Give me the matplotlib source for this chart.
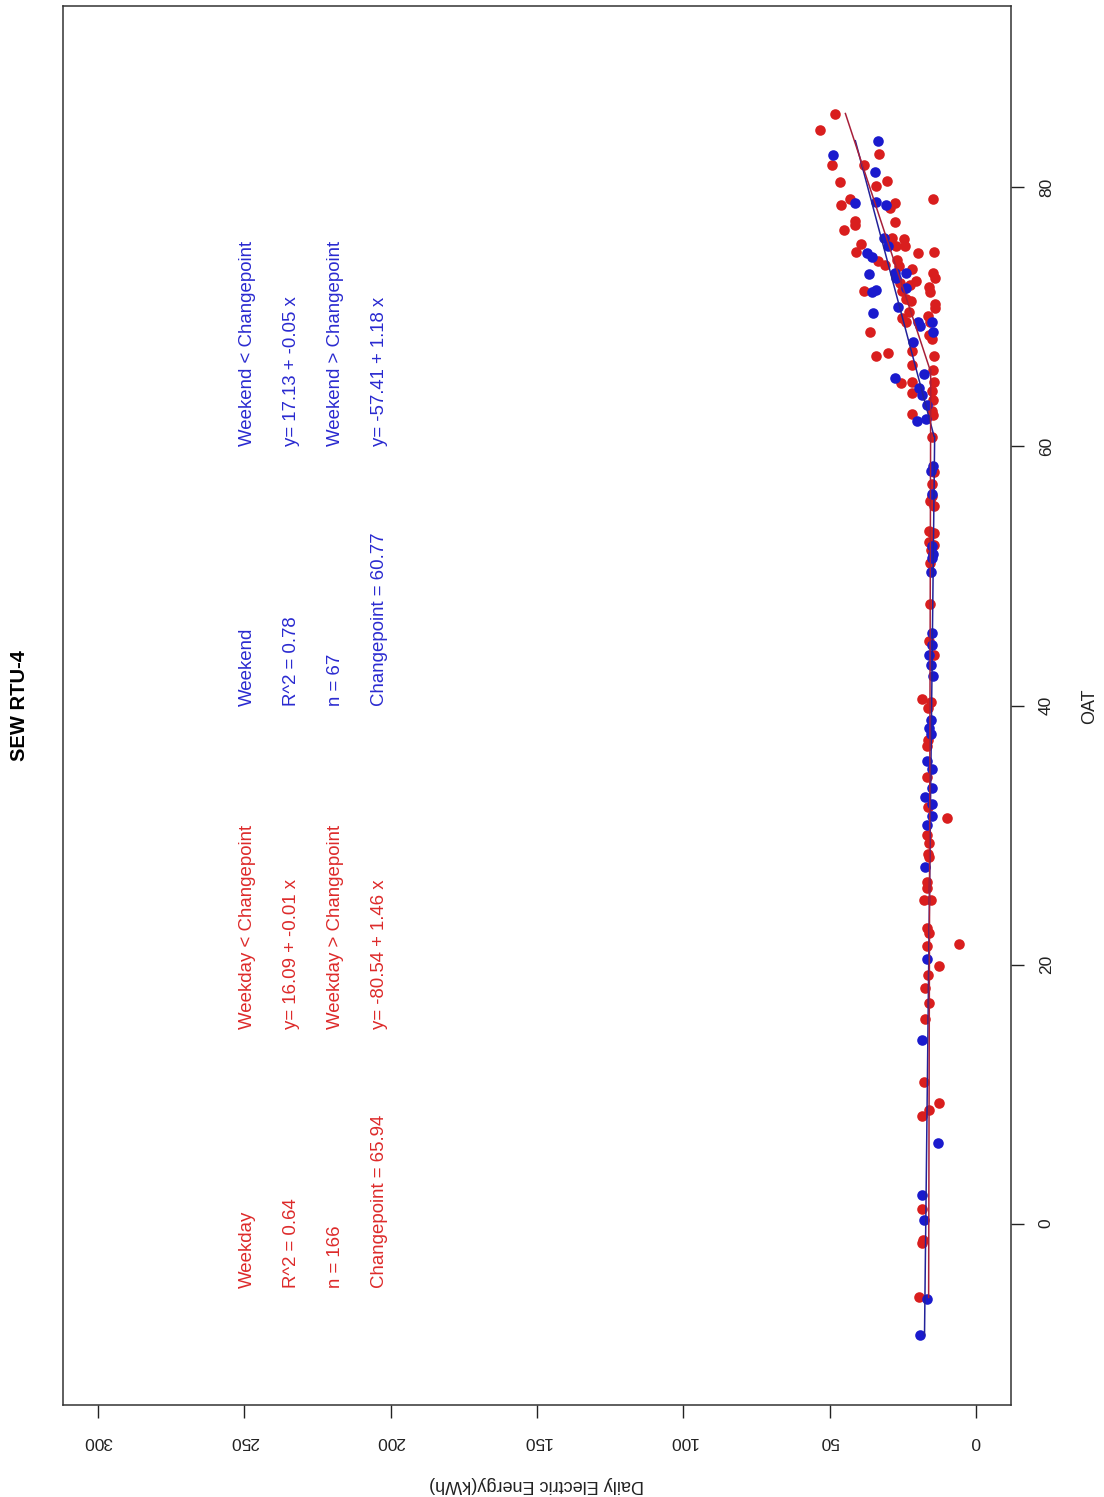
"""
Weekday / weekend changepoint scatter for SEW RTU-4 (page is turned on its side)
"""

import matplotlib
matplotlib.use("Agg")
import matplotlib.pyplot as plt

plt.rcParams['font.family'] = ['Liberation Sans', 'DejaVu Sans']

# weekday points (red)
weekday_oat = [85.7, 84.4, 82.6, 81.7, 81.7, 80.4, 80.5, 80.1, 79.1, 79.1, 78.6, 78.8, 78.4,
               77.4, 77.1, 77.3, 76.7, 76.1, 76.0, 75.5, 75.5, 75.6, 75.0, 74.9, 75.0, 74.3,
               74.0, 74.4, 73.9, 73.7, 73.4, 73.0, 72.8, 72.6, 72.0, 72.5, 72.3, 71.9, 72.0,
               71.4, 71.2, 71.0, 70.7, 70.4, 70.1, 69.9, 69.6, 69.6, 68.8, 68.3, 68.6, 67.0,
               67.2, 67.4, 67.0, 66.3, 65.9, 65.0, 64.9, 65.0, 64.1, 64.3, 63.6, 62.5, 62.7,
               62.4, 60.7, 58.0, 57.1, 56.2, 55.8, 55.4, 53.5, 53.3, 53.3, 52.6, 52.4, 52.0,
               51.0, 47.8, 45.0, 43.9, 40.5, 40.3, 39.8, 36.9, 37.3, 34.5, 32.2, 31.3, 30.0,
               29.4, 28.5, 28.3, 26.4, 25.9, 25.0, 25.0, 22.8, 22.4, 21.6, 21.4, 19.9, 19.2,
               18.2, 17.0, 15.8, 10.9, 9.3, 8.8, 8.3, 1.1, -1.5, -1.3, -5.7]
weekday_kwh = [48.2, 53.3, 33.0, 49.2, 38.1, 46.5, 30.3, 34.0, 14.7, 43.1, 46.1, 27.7, 29.4,
               41.4, 41.4, 27.7, 45.0, 28.6, 24.5, 24.1, 27.4, 39.2, 40.9, 19.8, 14.2, 33.4,
               30.9, 26.8, 26.3, 21.9, 14.7, 14.1, 20.4, 25.9, 38.2, 22.6, 16.1, 15.7, 25.1,
               23.8, 22.3, 14.1, 14.0, 22.7, 16.3, 25.3, 24.0, 15.7, 36.1, 14.9, 16.0, 34.0,
               29.9, 21.9, 14.2, 21.9, 14.7, 21.9, 25.6, 14.2, 21.9, 15.1, 14.6, 21.9, 14.9,
               14.6, 15.1, 14.3, 15.1, 14.9, 15.8, 14.3, 16.0, 15.1, 14.3, 16.0, 14.3, 15.4,
               15.8, 15.8, 16.0, 14.3, 18.3, 15.4, 16.3, 16.6, 16.3, 16.6, 16.3, 9.8, 16.6,
               16.0, 16.3, 16.0, 16.6, 16.6, 17.7, 15.4, 16.6, 16.0, 5.8, 16.6, 12.6, 16.3,
               17.4, 16.0, 17.4, 17.7, 12.6, 16.0, 18.3, 18.3, 18.3, 18.0, 19.4]

# weekend points (blue)
weekend_oat = [83.6, 82.5, 81.2, 78.8, 78.9, 78.6, 76.1, 75.5, 74.9, 74.6, 73.3, 73.4, 73.4,
               73.0, 71.9, 72.1, 72.2, 70.8, 70.3, 69.6, 69.3, 69.6, 68.8, 68.1, 65.6, 65.3,
               64.5, 64.0, 63.2, 62.0, 62.1, 58.5, 58.1, 56.3, 52.3, 51.7, 51.4, 50.3, 45.6,
               44.7, 43.9, 43.1, 42.3, 38.9, 38.3, 37.8, 35.7, 35.1, 33.6, 32.9, 32.4, 31.5,
               30.8, 27.5, 20.4, 14.2, 6.2, 2.2, 0.3, -5.8, -8.6]
weekend_kwh = [33.5, 48.7, 34.4, 41.4, 34.3, 30.8, 31.4, 29.9, 37.1, 35.6, 36.7, 27.6, 23.8,
               27.4, 35.6, 34.0, 24.0, 26.5, 35.0, 19.7, 19.2, 14.9, 14.6, 21.5, 17.7, 27.7,
               19.4, 18.3, 16.6, 20.0, 17.2, 14.6, 15.4, 14.9, 15.1, 14.6, 14.9, 15.2, 15.1,
               14.9, 16.0, 15.4, 14.7, 15.4, 16.0, 15.2, 16.8, 14.9, 15.1, 17.5, 14.9, 14.9,
               16.6, 17.4, 16.6, 18.3, 13.0, 18.3, 17.7, 16.6, 19.2]

# fitted changepoint lines (knots)
weekday_fit_oat = [-5.7, 65.94, 65.95, 85.7]
weekday_fit_kwh = [16.15, 15.43, 15.73, 44.6]
weekend_fit_oat = [-8.6, 60.77, 60.78, 83.6]
weekend_fit_kwh = [17.56, 14.09, 14.30, 41.2]

# annotation blocks: (text, kWh column, OAT start)
weekday_notes = [("Weekday", 249, -5), ("R^2 = 0.64", 234, -5), ("n = 166", 219, -5),
                 ("Changepoint = 65.94", 204, -5),
                 ("Weekday < Changepoint", 249, 15), ("y= 16.09 + -0.01 x", 234, 15),
                 ("Weekday > Changepoint", 219, 15), ("y= -80.54 + 1.46 x", 204, 15)]
weekend_notes = [("Weekend", 249, 40), ("R^2 = 0.78", 234, 40), ("n = 67", 219, 40),
                 ("Changepoint = 60.77", 204, 40),
                 ("Weekend < Changepoint", 249, 60), ("y= 17.13 + -0.05 x", 234, 60),
                 ("Weekend > Changepoint", 219, 60), ("y= -57.41 + 1.18 x", 204, 60)]

kwh_ticks = [0, 50, 100, 150, 200, 250, 300]
oat_ticks = [0, 20, 40, 60, 80]

red_pt, blue_pt = '#d91e1e', '#1a1acd'
red_txt, blue_txt = '#dd2a2a', '#2a2ad0'

W, H = 1104, 1497
fig = plt.figure(figsize=(W / 100, H / 100), dpi=100)
ax = fig.add_axes([63 / W, 1 - 1405 / H, (1011 - 63) / W, (1405 - 6) / H])

# energy runs horizontally (reversed), OAT runs up the page
ax.scatter(weekday_kwh, weekday_oat, s=58, color=red_pt, linewidths=0, zorder=2)
ax.scatter(weekend_kwh, weekend_oat, s=58, color=blue_pt, linewidths=0, zorder=2)
ax.plot(weekend_fit_kwh, weekend_fit_oat, color='#22229a', lw=1.1, zorder=3)
ax.plot(weekday_fit_kwh, weekday_fit_oat, color='#a8203a', lw=1.1, zorder=3)

for txt, kwh, oat in weekday_notes:
    ax.text(kwh, oat, txt, color=red_txt, fontsize=13.4, rotation=90, ha='center', va='bottom')
for txt, kwh, oat in weekend_notes:
    ax.text(kwh, oat, txt, color=blue_txt, fontsize=13.4, rotation=90, ha='center', va='bottom')

ax.set_xlim(312, -12)
ax.set_ylim(-14, 94)

ax.set_xticks(kwh_ticks)
ax.set_xticklabels([str(t) for t in kwh_ticks], rotation=180)
ax.yaxis.tick_right()
ax.set_yticks(oat_ticks)
ax.set_yticklabels([str(t) for t in oat_ticks], rotation=90, va='center')
ax.tick_params(axis='x', direction='out', length=9, width=1, pad=12, labelsize=12.5,
               colors='#222222')
ax.tick_params(axis='y', direction='out', length=9, width=1, pad=11, labelsize=12.5,
               colors='#222222')
for sp in ax.spines.values():
    sp.set_linewidth(1.1)
    sp.set_color('#333333')

fig.text(20 / W, 1 - 706 / H, "SEW RTU-4", rotation=90, fontsize=14.5, fontweight='bold',
         ha='center', va='center')
fig.text(1090 / W, 1 - 706 / H, "OAT", rotation=90, fontsize=13, ha='center', va='center',
         color='#222222')
fig.text(537 / W, 1 - 1484 / H, "Daily Electric Energy(kWh)", rotation=180, fontsize=13,
         ha='center', va='center', color='#222222')

fig.savefig("out.png", dpi=100, facecolor='white')
